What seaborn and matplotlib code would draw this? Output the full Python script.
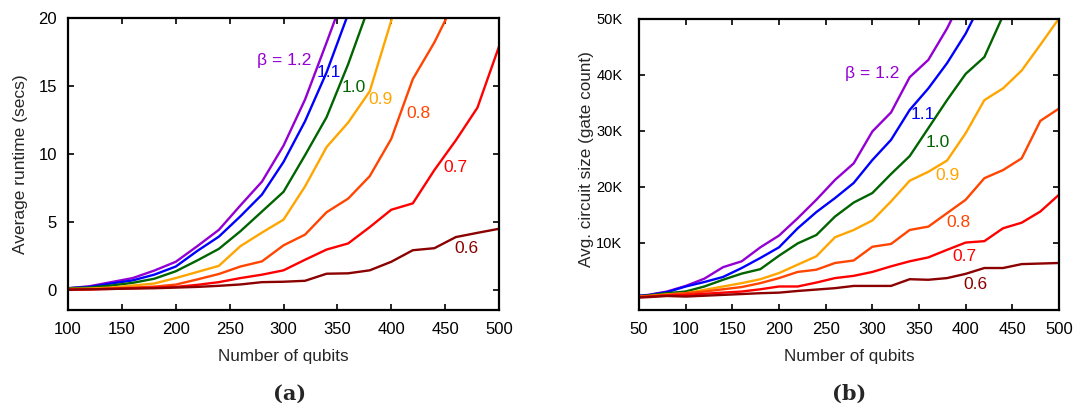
import numpy as np
import pandas as pd
import matplotlib
matplotlib.use("Agg")
import matplotlib.pyplot as plt
import seaborn as sns

# ---- panel (a): average runtime (secs) ----
qubits_a = [100, 120, 140, 160, 180, 200, 220, 240, 260, 280, 300,
            320, 340, 360, 380, 400, 420, 440, 460, 480, 500]
runtime = {
    "1.2": [0.1, 0.25, 0.55, 0.85, 1.4, 2.05, 3.2, 4.4, 6.2, 7.95, 10.6, 14.0, 18.2, 22.5],
    "1.1": [0.1, 0.2, 0.45, 0.68, 1.1, 1.7, 2.85, 3.9, 5.4, 7.0, 9.4, 12.4, 16.0, 20.3],
    "1.0": [0.1, 0.15, 0.3, 0.5, 0.8, 1.35, 2.15, 3.0, 4.3, 5.75, 7.2, 9.9, 12.7, 16.6, 21.0],
    "0.9": [0.05, 0.08, 0.15, 0.3, 0.45, 0.85, 1.3, 1.75, 3.2, 4.2, 5.15, 7.6, 10.5, 12.3,
            14.6, 19.8, 24.0],
    "0.8": [0.0, 0.03, 0.08, 0.15, 0.22, 0.37, 0.75, 1.15, 1.7, 2.08, 3.26, 4.05, 5.7, 6.7,
            8.35, 11.1, 15.5, 18.2, 21.4],
    "0.7": [0.0, 0.02, 0.05, 0.1, 0.15, 0.2, 0.35, 0.55, 0.85, 1.1, 1.42, 2.2, 2.95, 3.4,
            4.6, 5.88, 6.35, 8.8, 11.0, 13.4, 17.9],
    "0.6": [0.0, 0.02, 0.05, 0.08, 0.1, 0.15, 0.2, 0.28, 0.38, 0.55, 0.58, 0.65, 1.17, 1.2,
            1.42, 2.05, 2.9, 3.05, 3.87, 4.18, 4.48],
}

# ---- panel (b): circuit size (gate count) ----
qubits_b = [40, 60, 80, 100, 120, 140, 160, 180, 200, 220, 240, 260, 280, 300,
            320, 340, 360, 380, 400, 420, 440, 460, 480, 500]
gates = {
    "1.2": [400, 700, 1300, 2300, 3600, 5650, 6700, 9200, 11300, 14400, 17700, 21250, 24200,
            29900, 33300, 39600, 42700, 48300, 55000],
    "1.1": [400, 650, 1200, 2200, 3000, 3900, 5500, 7300, 9200, 12600, 15500, 18000, 20700,
            24800, 28400, 33750, 37600, 42100, 47400, 54000],
    "1.0": [350, 600, 1000, 1300, 2200, 3400, 4500, 5300, 7700, 9900, 11400, 14700, 17200,
            18900, 22300, 25500, 30500, 35500, 40200, 43200, 50600],
    "0.9": [300, 500, 800, 1000, 1600, 2200, 2800, 3500, 4600, 6100, 7600, 11000, 12300,
            14000, 17400, 21100, 22700, 24700, 29600, 35500, 37600, 40800, 45400, 50100],
    "0.8": [250, 450, 700, 1000, 1300, 1700, 2100, 2800, 3700, 4800, 5200, 6400, 6850,
            9300, 9800, 12300, 12900, 15300, 17700, 21550, 23000, 25100, 31800, 34000],
    "0.7": [200, 400, 600, 700, 900, 1100, 1300, 1700, 2200, 2200, 2900, 3700, 4100,
            4800, 5800, 6700, 7400, 8750, 10050, 10300, 12600, 13600, 15600, 18600],
    "0.6": [150, 300, 500, 400, 550, 700, 850, 1000, 1100, 1400, 1650, 1900, 2300, 2300,
            2300, 3500, 3400, 3700, 4460, 5500, 5500, 6200, 6300, 6400],
}

betas = ["1.2", "1.1", "1.0", "0.9", "0.8", "0.7", "0.6"]
colors = ["#9400D3", "#0000FF", "#006400", "#FFA500", "#FF4500", "#FF0000", "#8B0000"]

# label anchors (data coords)
labels_a = {"1.2": (301, 16.9), "1.1": (342, 16.0), "1.0": (365, 14.9), "0.9": (390, 14.0),
            "0.8": (425, 13.0), "0.7": (460, 9.0), "0.6": (470, 3.0)}
labels_b = {"1.2": (300, 40200), "1.1": (354, 32900), "1.0": (370, 27900), "0.9": (380, 22100),
            "0.8": (392, 13600), "0.7": (399, 7550), "0.6": (410, 2500)}

sns.set_style("ticks")
plt.rcParams["font.family"] = ["Liberation Sans", "DejaVu Sans"]

fig = plt.figure(figsize=(10.78, 4.04), dpi=100)
ax1 = fig.add_axes([0.0631, 0.2327, 0.3998, 0.7228])
ax2 = fig.add_axes([0.5928, 0.2327, 0.3896, 0.7203])


def draw(ax, xs, table, labels):
    for b, c in zip(betas, colors):
        ys = table[b]
        df = pd.DataFrame({"x": xs[:len(ys)], "y": ys})
        sns.lineplot(data=df, x="x", y="y", ax=ax, color=c, lw=1.7, estimator=None,
                     sort=False, legend=False)
        tx, ty = labels[b]
        txt = "\u03b2 = " + b if b == "1.2" else b
        ax.text(tx, ty, txt, color=c, fontsize=12.5, ha="center", va="center")
    for s in ax.spines.values():
        s.set_linewidth(1.6)
        s.set_color("black")
    ax.tick_params(direction="in", top=True, right=True, length=4, width=1.2,
                   labelsize=12, colors="black")
    ax.tick_params(axis="x", pad=9)
    ax.set_xlabel("Number of qubits", fontsize=12.3)
    ax.xaxis.set_label_coords(0.5, -0.135)


draw(ax1, qubits_a, runtime, labels_a)
ax1.set_xlim(100, 500)
ax1.set_ylim(-1.5, 20)
ax1.set_xticks(range(100, 501, 50))
ax1.set_yticks([0, 5, 10, 15, 20])
ax1.tick_params(axis="y", pad=8)
ax1.set_ylabel("Average runtime (secs)", fontsize=12.5)
ax1.yaxis.set_label_coords(-0.093, 0.5)

draw(ax2, qubits_b, gates, labels_b)
ax2.set_xlim(50, 500)
ax2.set_ylim(-2000, 50000)
ax2.set_xticks(range(50, 501, 50))
ax2.set_yticks([10000, 20000, 30000, 40000, 50000])
ax2.set_yticklabels(["10K", "20K", "30K", "40K", "50K"])
ax2.tick_params(axis="y", pad=12, labelsize=10.5)
ax2.set_ylabel("Avg. circuit size (gate count)", fontsize=12.3)
ax2.yaxis.set_label_coords(-0.107, 0.52)

fig.text(0.2685, 0.025, "(a)", fontsize=15, fontweight="bold", family="DejaVu Serif",
         ha="center", va="center")
fig.text(0.788, 0.025, "(b)", fontsize=15, fontweight="bold", family="DejaVu Serif",
         ha="center", va="center")

fig.savefig("out.png", dpi=100)
